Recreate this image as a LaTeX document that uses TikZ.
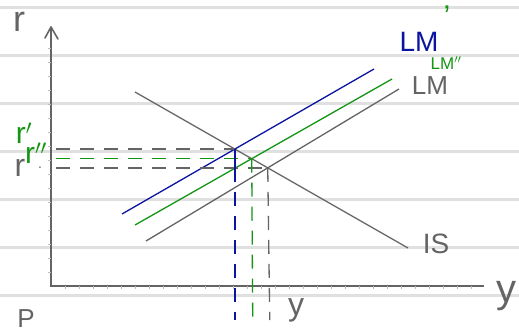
\documentclass[tikz,border=0pt]{standalone}
\usepackage{fontspec}
\setmainfont{Liberation Sans}
\usetikzlibrary{intersections,calc}
\definecolor{ink}{RGB}{100,100,100}
\definecolor{paper}{RGB}{224,224,224}
\definecolor{bink}{RGB}{10,20,160}
\definecolor{gink}{RGB}{20,150,20}
\tikzset{
  rule/.style={paper, line width=3pt},
  axisline/.style={ink, line width=1.6pt},
  curve/.style={line width=1.3pt},
  guide/.style={line width=1.3pt, dash pattern=on 14pt off 10pt},
  hand/.style={inner sep=0pt, anchor=center},
}
\newcommand{\fs}[1]{\fontsize{#1}{#1}\selectfont}
\begin{document}
\begin{tikzpicture}[x=1pt,y=-1pt]
\useasboundingbox (0,0) rectangle (519,332);
\fill[white] (0,0) rectangle (519,332);
\foreach \yy in {7,55,103,151,199,247,295} \draw[rule] (0,\yy) -- (519,\yy);

% axes
\coordinate (O) at (51,286);
\coordinate (Ytop) at (51,27);
\coordinate (Xend) at (484,286);
\draw[axisline] (Ytop) -- (O) -- (Xend);
\draw[axisline, line cap=round, line join=round] (45,38) -- (Ytop) -- (58,39);
\foreach \t in {65,79,...,480} \draw[paper!70!ink, line width=0.6pt] (\t,286) -- (\t,289);
\foreach \t in {272,258,...,40} \draw[paper!70!ink, line width=0.6pt] (51,\t) -- (48,\t);

% curves
\draw[ink, curve, name path=IS] (135,92) coordinate (ISa) -- (408,248) coordinate (ISb);
\draw[ink, curve, name path=LM] (146,241) coordinate (LMa) -- (399,89) coordinate (LMb);
\draw[gink, curve, name path=LMg] (135,225) coordinate (LMga) -- (392,79) coordinate (LMgb);
\draw[bink, curve, name path=LMbl] (122,214) coordinate (LMbla) -- (374,69) coordinate (LMblb);

\path[name intersections={of=IS and LMbl, by=Eb}];
\path[name intersections={of=IS and LMg, by=Eg}];
\path[name intersections={of=IS and LM, by=Ea}];

% guides
\coordinate (rb) at (O |- Eb);
\coordinate (rg) at (O |- Eg);
\coordinate (ra) at (O |- Ea);
\draw[ink, guide] ([xshift=5pt]rb) -- (Eb);
\draw[gink, guide] ([xshift=5pt]rg) -- (Eg);
\draw[ink, guide] ([xshift=5pt]ra) -- (Ea);

\coordinate (Bmid) at (Eb |- Ea);
\draw[bink, curve] (Eb) -- (Bmid);
\draw[bink, guide] (Bmid) -- (Eb |- 0,320);
\draw[gink, guide] (Eg) -- ([xshift=1pt]Eg |- 0,320);
\draw[ink, guide] (Ea) -- ([xshift=2pt]Ea |- 0,320);

% labels
\node[hand, ink] (lr) at (19,22) {\fs{36}r};
\node[hand, ink] (lyax) at (506,296) {\fs{40}y};
\node[hand, ink] (lp) at (26,319) {\fs{26}P};
\node[hand, ink] (lra) at (20,168) {\fs{32}r};
\node[hand, ink] (ldot) at (40,168) {\fs{14}.};
\node[hand, gink] (lrb) at (24,133) {\fs{30}r$'$};
\node[hand, gink] (lrg) at (36,153) {\fs{30}r$''$};
\node[hand, ink] (ly) at (296,310) {\fs{32}y};
\node[hand, ink] (lLM) at (430,86) {\fs{26}LM};
\node[hand, bink] (lLMb) at (419,42) {\fs{28}LM};
\node[hand, gink] (lLMbp) at (447,16) {\fs{30}'};
\node[hand, gink] (lLMg) at (446,63) {\fs{17}LM$''$};
\node[hand, ink] (lIS) at (436,244) {\fs{28}IS};
\end{tikzpicture}
\end{document}
